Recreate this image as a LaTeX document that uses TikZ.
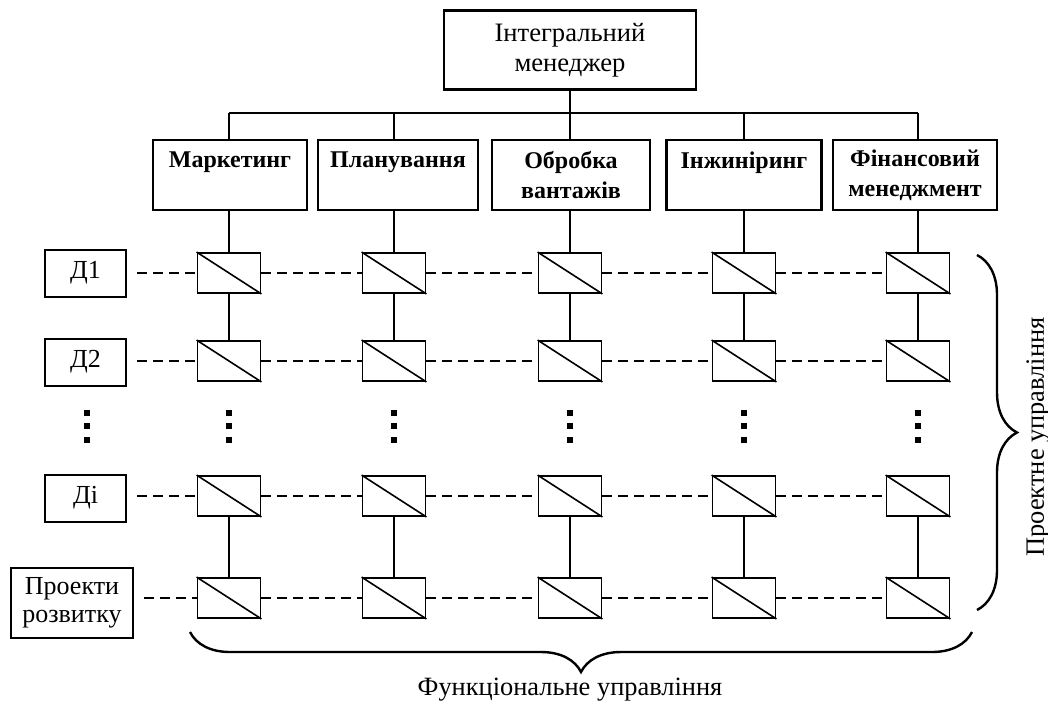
\documentclass[tikz,border=0pt]{standalone}
\usepackage{fontspec}
\setmainfont{Liberation Serif}
\usetikzlibrary{positioning, calc, decorations.pathreplacing}
\tikzset{
  mgrbox/.style={
    draw, line width=1.3pt, minimum width=126pt, minimum height=39.5pt,
    align=center, inner sep=0pt, font=\fontsize{13.3}{15}\selectfont,
  },
  funcbox/.style={
    draw, line width=1.3pt, minimum width=#1, minimum height=35pt,
    align=center, inner sep=0pt, font=\fontsize{12}{15}\selectfont\bfseries,
  },
  funcbox/.default=78pt,
  projbox/.style={
    draw, line width=1pt, minimum width=40.5pt, minimum height=23.5pt,
    align=center, inner sep=0pt, font=\fontsize{13}{14}\selectfont,
  },
  cellbox/.style={draw, line width=0.9pt, minimum width=31.5pt, minimum height=20pt, inner sep=0pt},
  link/.style={line width=0.9pt},
  dashlink/.style={line width=0.9pt, dash pattern=on 5pt off 3pt},
  brace/.style={decorate, decoration={brace, amplitude=20pt}, line width=1.2pt},
  dotmark/.style={fill, minimum size=3pt, inner sep=0pt},
  caption/.style={font=\fontsize{13.2}{15}\selectfont, inner sep=0pt},
}

\begin{document}
\begin{tikzpicture}[x=0.5pt, y=-0.5pt]
  \useasboundingbox (0,0) rectangle (1048,707);

  % Integral manager and bus
  \node[mgrbox] (top) at (570,50) {Інтегральний\\менеджер};
  \coordinate (bus) at (570,113);
  \draw[link] (top.south) -- (bus);

  % Functional departments
  \foreach \x/\w/\lbl [count=\i] in {230/77pt/{Маркетинг\\~}, 398/80pt/{Планування\\~},
      571/79pt/{Обробка\\вантажів}, 744/77.5pt/{Інжиніринг\\~}, 915/82pt/{Фінансовий\\менеджмент}} {
    \node[funcbox=\w] (f\i) at (\x,175) {\lbl};
  }

  % Project rows
  \node[projbox] (d1) at (85.5,273) {Д1};
  \node[projbox] (d2) at (85.5,362) {Д2};
  \node[projbox] (d3) at (85.5,498) {Ді};
  \node[projbox, minimum width=61pt, minimum height=35pt]
    (d4) at (72,603) {Проекти\\розвитку};

  % Matrix cells
  \foreach \x [count=\i] in {229,394,570,744,918} {
    \foreach \y [count=\r] in {273,361,496,598} {
      \node[cellbox] (c\i\r) at (\x,\y) {};
      \draw[line width=0.8pt] (c\i\r.north west) -- (c\i\r.south east);
    }
    \draw[link] (c\i1.north) -- (c\i1.north |- f\i.south);
    \draw[link] (c\i1.north |- bus) -- (c\i1.north |- f\i.north);
    \draw[link] (c\i1) -- (c\i2);
    \draw[link] (c\i3) -- (c\i4);
    \foreach \y in {413,426,440} {
      \node[dotmark] at (\x,\y) {};
    }
  }
  \draw[link] (c11.north |- bus) -- (c51.north |- bus);
  \foreach \y in {413,426,440} {
    \node[dotmark] at (87,\y) {};
  }

  % Dashed project links
  \foreach \r in {1,...,4} {
    \draw[dashlink] ([xshift=5pt]d\r.east |- c1\r.west) -- (c1\r.west);
    \foreach \a/\b in {1/2, 2/3, 3/4, 4/5} {
      \draw[dashlink] (c\a\r.east) -- (c\b\r.west);
    }
  }

  % Braces
  \coordinate (rb1) at (977,255);
  \coordinate (rb2) at (977,610);
  \draw[brace] (rb1) -- (rb2);
  \node[caption, rotate=90] (pm) at (1038,437) {Проектне управління};
  \coordinate (bb1) at (972,632);
  \coordinate (bb2) at (190,632);
  \draw[brace] (bb1) -- (bb2);
  \node[caption] (fm) at (570,690) {Функціональне управління};
\end{tikzpicture}
\end{document}
